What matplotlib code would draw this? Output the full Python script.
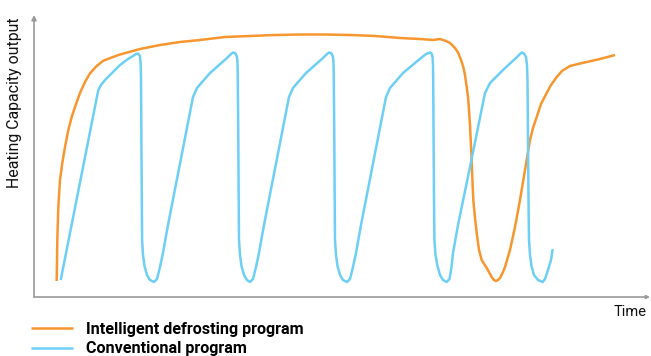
import matplotlib
matplotlib.use("Agg")
import matplotlib.pyplot as plt

plt.rcParams['font.family'] = ['Roboto', 'DejaVu Sans']

# values (time axis 0..616, capacity 0..282)
orange_t = [22.7, 23.3, 24.3, 26, 28.3, 31, 34.3, 37.7, 41, 46, 51, 56, 62.7, 69.3, 77.7, 86, 106,
            126, 146, 166, 191, 216, 241, 266, 291, 316, 341, 366, 386, 399, 406, 412,
            416, 421, 424.3, 427, 429.3, 431, 432.7, 434, 435, 436, 436.7, 437.5, 438, 439.3,
            441, 442.7, 445, 447.7, 452.7, 457.7, 460, 462, 464, 466, 469, 471, 476, 481,
            486, 491, 496, 499, 502.7, 507, 512.7, 517, 522.7, 528, 536, 544, 552.7, 566, 581]
orange_cap = [16, 57, 90, 117, 134, 150, 167, 180, 190, 204, 215, 223.7, 231, 236.3, 239.5, 242.5, 248,
              252, 255, 257, 260, 261, 262, 262.5, 262.5, 262, 261, 259, 258, 257, 258, 256,
              254, 249, 244, 237, 230, 222, 210, 200, 187, 172, 157, 142, 127, 97, 79, 64, 47,
              37, 29, 20, 17, 16, 17, 19, 25, 30, 47, 70, 97, 127, 157, 169, 180, 193, 204, 212,
              220, 226, 231, 233, 235, 238, 242]

blue_t = [26.7, 64.3, 67, 71, 78, 86, 94, 99, 102, 104, 106, 106.7, 107, 107.4, 107.8, 108.1,
          109, 110.5, 113, 116, 120,
          123, 126, 129, 134, 159, 163, 176, 193, 197, 199, 201.5, 203, 203.6, 203.8, 204.3, 204.7,
          205, 206, 207.5, 210, 213, 216,
          219, 222, 225, 230, 255, 259, 272, 289, 293, 295, 297.5, 299, 299.6, 299.8, 300.3, 300.7,
          301, 302, 303.5, 306, 309, 313,
          316, 319, 322, 327, 352, 356, 369, 387, 392, 396, 397.5, 398.5, 399, 399.2, 399.6, 400,
          400.4, 401.5, 403.5, 406, 409, 412.7,
          415.5, 417.5, 419, 424, 436, 451, 456, 469, 482, 485, 487.7, 490, 492, 493, 493.5, 494,
          494.5, 495, 496, 497.5, 500, 504, 508.7,
          511, 514, 517, 518.7]
blue_cap = [17, 207, 212, 217, 224, 232, 238, 241, 243, 243.5, 241, 232, 217, 157, 97, 57,
            42, 31, 22, 17, 15,
            18, 30, 44, 72, 200, 209, 224, 239, 243, 244.5, 243.5, 240, 232, 217, 157, 97,
            57, 42, 31, 22, 17, 15,
            18, 30, 44, 72, 200, 209, 224, 239, 243, 244.5, 243.5, 240, 232, 217, 157, 97,
            57, 42, 31, 22, 17, 15,
            18, 30, 44, 72, 200, 209, 224, 239, 243, 244.5, 243.5, 240, 232, 217, 157, 97,
            57, 42, 31, 22, 17, 15,
            18, 30, 44, 72, 130, 204, 214, 227, 239, 242, 244.5, 243.5, 240, 232, 217, 157,
            97, 57, 42, 31, 22, 17, 15,
            18, 27, 37, 48]

labels = ['Intelligent defrosting program', 'Conventional program']
colors = ['#F7962F', '#6DCFF6']

fig = plt.figure(figsize=(6.51, 3.56), dpi=100)
ax = fig.add_axes([34 / 651, 59 / 356, 616 / 651, 282 / 356])

ax.plot(orange_t, orange_cap, color=colors[0], lw=1.8, label=labels[0], solid_capstyle='butt')
ax.plot(blue_t, blue_cap, color=colors[1], lw=1.8, label=labels[1], solid_capstyle='butt')

ax.set_xlim(0, 616)
ax.set_ylim(0, 282)
for s in ax.spines.values():
    s.set_visible(False)
ax.set_xticks([])
ax.set_yticks([])

# axis arrows
axis_col = '#9a9a9a'
ax.annotate('', xy=(0, 1), xytext=(0, 0), xycoords='axes fraction',
            arrowprops=dict(arrowstyle='-|>', color=axis_col, lw=1.2, mutation_scale=7, shrinkA=0, shrinkB=0))
ax.annotate('', xy=(1, 0), xytext=(0, 0), xycoords='axes fraction',
            arrowprops=dict(arrowstyle='-|>', color=axis_col, lw=1.2, mutation_scale=5, shrinkA=0, shrinkB=0))

fig.text(15 / 651, 1 - 103 / 356, 'Heating Capacity output', rotation=90,
         ha='center', va='center', fontsize=11.4, color='#111111')
fig.text(647 / 651, 1 - 312.5 / 356, 'Time', ha='right', va='center', fontsize=10.5, color='#111111')

fig.legend(loc='upper left', bbox_to_anchor=(31 / 651, 1 - 322 / 356), frameon=False,
           prop={'weight': 'bold', 'size': 11.6}, handlelength=2.6, handletextpad=0.83,
           labelspacing=0.27, borderaxespad=0, borderpad=0)

fig.savefig('out.png', dpi=100)
